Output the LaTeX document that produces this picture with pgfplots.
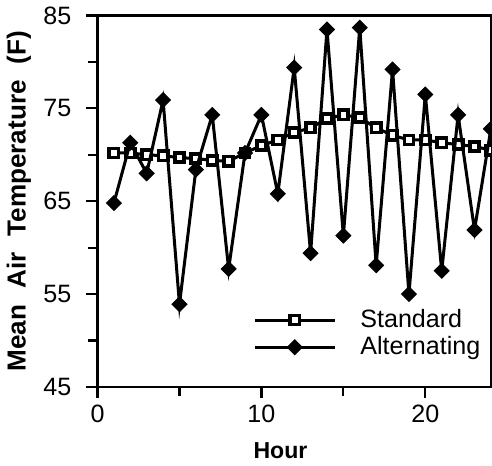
\documentclass[border=0pt]{standalone}
\usepackage{fontspec}
\setmainfont{Liberation Sans}
\usepackage{pgfplots}
\pgfplotsset{compat=1.18}

\pgfplotstableread{
h std alt
1 70.2 64.8
2 70.2 71.3
3 70.0 68.0
4 69.9 75.9
5 69.7 53.9
6 69.6 68.4
7 69.4 74.3
8 69.3 57.7
9 70.2 70.2
10 71.0 74.3
11 71.6 65.8
12 72.4 79.4
13 72.9 59.4
14 73.9 83.5
15 74.3 61.3
16 74.0 83.7
17 72.9 58.1
18 72.1 79.2
19 71.6 55.0
20 71.6 76.5
21 71.3 57.5
22 71.1 74.3
23 70.9 61.9
24 70.5 72.8
}\temps

\begin{document}
\begin{tikzpicture}
\begin{axis}[
  scale only axis,
  width=196pt, height=185pt,
  xmin=0, xmax=24, ymin=45, ymax=85,
  xtick={0,10,20}, ytick={45,55,65,75,85},
  minor xtick={5,15}, minor ytick={50,60,70,80},
  xtick pos=left, ytick pos=left,
  tick align=outside,
  major tick length=5.5pt, minor tick length=4.5pt,
  every tick/.style={black, line width=1.1pt},
  axis line style={line width=1.1pt},
  /pgf/number format/assume math mode=true,
  tick label style={font=\fontsize{12.5}{14}\selectfont},
  yticklabel style={xshift=-4pt},
  xlabel={\bfseries Hour},
  ylabel={\bfseries Mean\hspace{8pt}Air\hspace{8pt}Temperature\hspace{8pt}(F)},
  xlabel style={font=\fontsize{11.5}{13}\selectfont, at={(axis description cs:0.465,-0.173)}, anchor=center},
  ylabel style={font=\fontsize{13}{15}\selectfont, at={(axis description cs:-0.2,0.5)}, anchor=center},
  clip marker paths=true,
  legend style={draw=none, fill=none, at={(0.395,0.215)}, anchor=north west,
    font=\fontsize{12.5}{15}\selectfont, inner sep=0pt, row sep=1pt,
    column sep=11pt, nodes={inner sep=1pt}},
  legend cell align=left,
  legend image code/.code={
    \draw[mark repeat=2, mark phase=2, #1] plot coordinates {(0cm,0cm) (0.7cm,0cm) (1.4cm,0cm)};
  },
]
\addplot[black, line width=1.5pt, mark=square*, mark size=2.3pt,
  mark options={fill=white, line width=1.8pt, solid}]
  table[x=h, y=std] {\temps};
\addlegendentry{Standard}
\addplot[black, line width=1.5pt, mark=square*, mark size=2.6pt,
  mark options={fill=black, rotate=45, line width=0.5pt, solid}]
  table[x=h, y=alt] {\temps};
\addlegendentry{Alternating}
\end{axis}
\end{tikzpicture}
\end{document}
